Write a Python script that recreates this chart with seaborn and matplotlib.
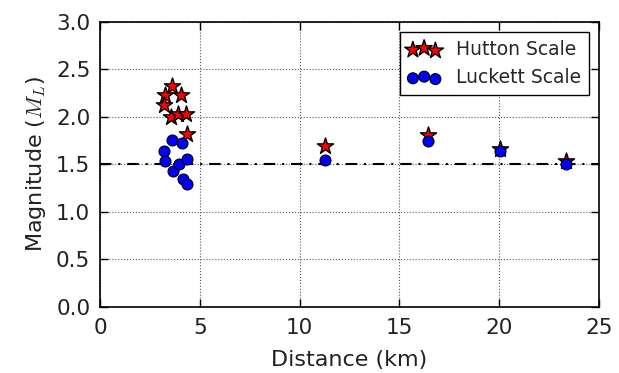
import matplotlib
matplotlib.use("Agg")
import matplotlib.pyplot as plt
import seaborn as sns
import pandas as pd

hutton_dist = [3.59, 3.26, 4.06, 3.21, 3.56, 3.92, 4.31, 4.34, 11.27, 16.45, 20.05, 23.35]
hutton_mag = [2.33, 2.23, 2.23, 2.13, 2.00, 2.03, 2.03, 1.82, 1.69, 1.81, 1.66, 1.53]
luckett_dist = [3.59, 4.09, 3.21, 3.26, 3.64, 3.97, 4.34, 4.17, 4.34, 11.27, 16.45, 20.05, 23.35]
luckett_mag = [1.76, 1.72, 1.64, 1.54, 1.43, 1.50, 1.56, 1.34, 1.29, 1.55, 1.75, 1.64, 1.50]
threshold = 1.5

sns.set_style("ticks", {"xtick.direction": "in", "ytick.direction": "in"})
plt.rcParams["font.family"] = ["DejaVu Sans"]
plt.rcParams["mathtext.fontset"] = "cm"

fig = plt.figure(figsize=(6.19, 3.73), dpi=100)
ax = fig.add_axes([0.1616, 0.178, 0.806, 0.763])

dh = pd.DataFrame({"d": hutton_dist, "m": hutton_mag})
dl = pd.DataFrame({"d": luckett_dist, "m": luckett_mag})

sns.scatterplot(data=dh, x="d", y="m", marker="*", s=150, color="red",
                edgecolor="black", linewidth=1.0, label="Hutton Scale", ax=ax, zorder=3)
sns.scatterplot(data=dl, x="d", y="m", marker="o", s=62, color="blue",
                edgecolor="black", linewidth=0.8, label="Luckett Scale", ax=ax, zorder=4)

ax.axhline(threshold, color="black", linestyle="-.", linewidth=1.5,
           dashes=(5.5, 3.3, 1, 3.3), zorder=2)

ax.set_xlim(0, 25)
ax.set_ylim(0, 3.0)
ax.set_xticks([0, 5, 10, 15, 20, 25])
ax.set_yticks([0.0, 0.5, 1.0, 1.5, 2.0, 2.5, 3.0])
ax.set_yticklabels(["0.0", "0.5", "1.0", "1.5", "2.0", "2.5", "3.0"])
ax.grid(True, color="#555555", linestyle=":", linewidth=0.8)
ax.set_axisbelow(True)
for sp in ax.spines.values():
    sp.set_visible(True)
    sp.set_color("black")
    sp.set_linewidth(1.2)
ax.tick_params(axis="both", labelsize=15.5, direction="in", length=6, width=1,
               top=True, right=True, colors="black", pad=8)
ax.tick_params(axis="y", pad=7)
ax.tick_params(axis="both", labelcolor="#222222")
ax.set_xlabel("Distance (km)", fontsize=16, color="#222222", labelpad=9)
ax.set_ylabel("Magnitude ($M_L$)", fontsize=16, color="#222222", labelpad=6)

leg = ax.legend(loc="upper right", scatterpoints=3, fontsize=13.5, frameon=True,
                fancybox=False, edgecolor="black", framealpha=1,
                handlelength=1.8, handletextpad=0.8, borderpad=0.4,
                labelspacing=0.5, borderaxespad=0.55)
leg.get_frame().set_linewidth(1.0)

fig.savefig("out.png", dpi=100)
